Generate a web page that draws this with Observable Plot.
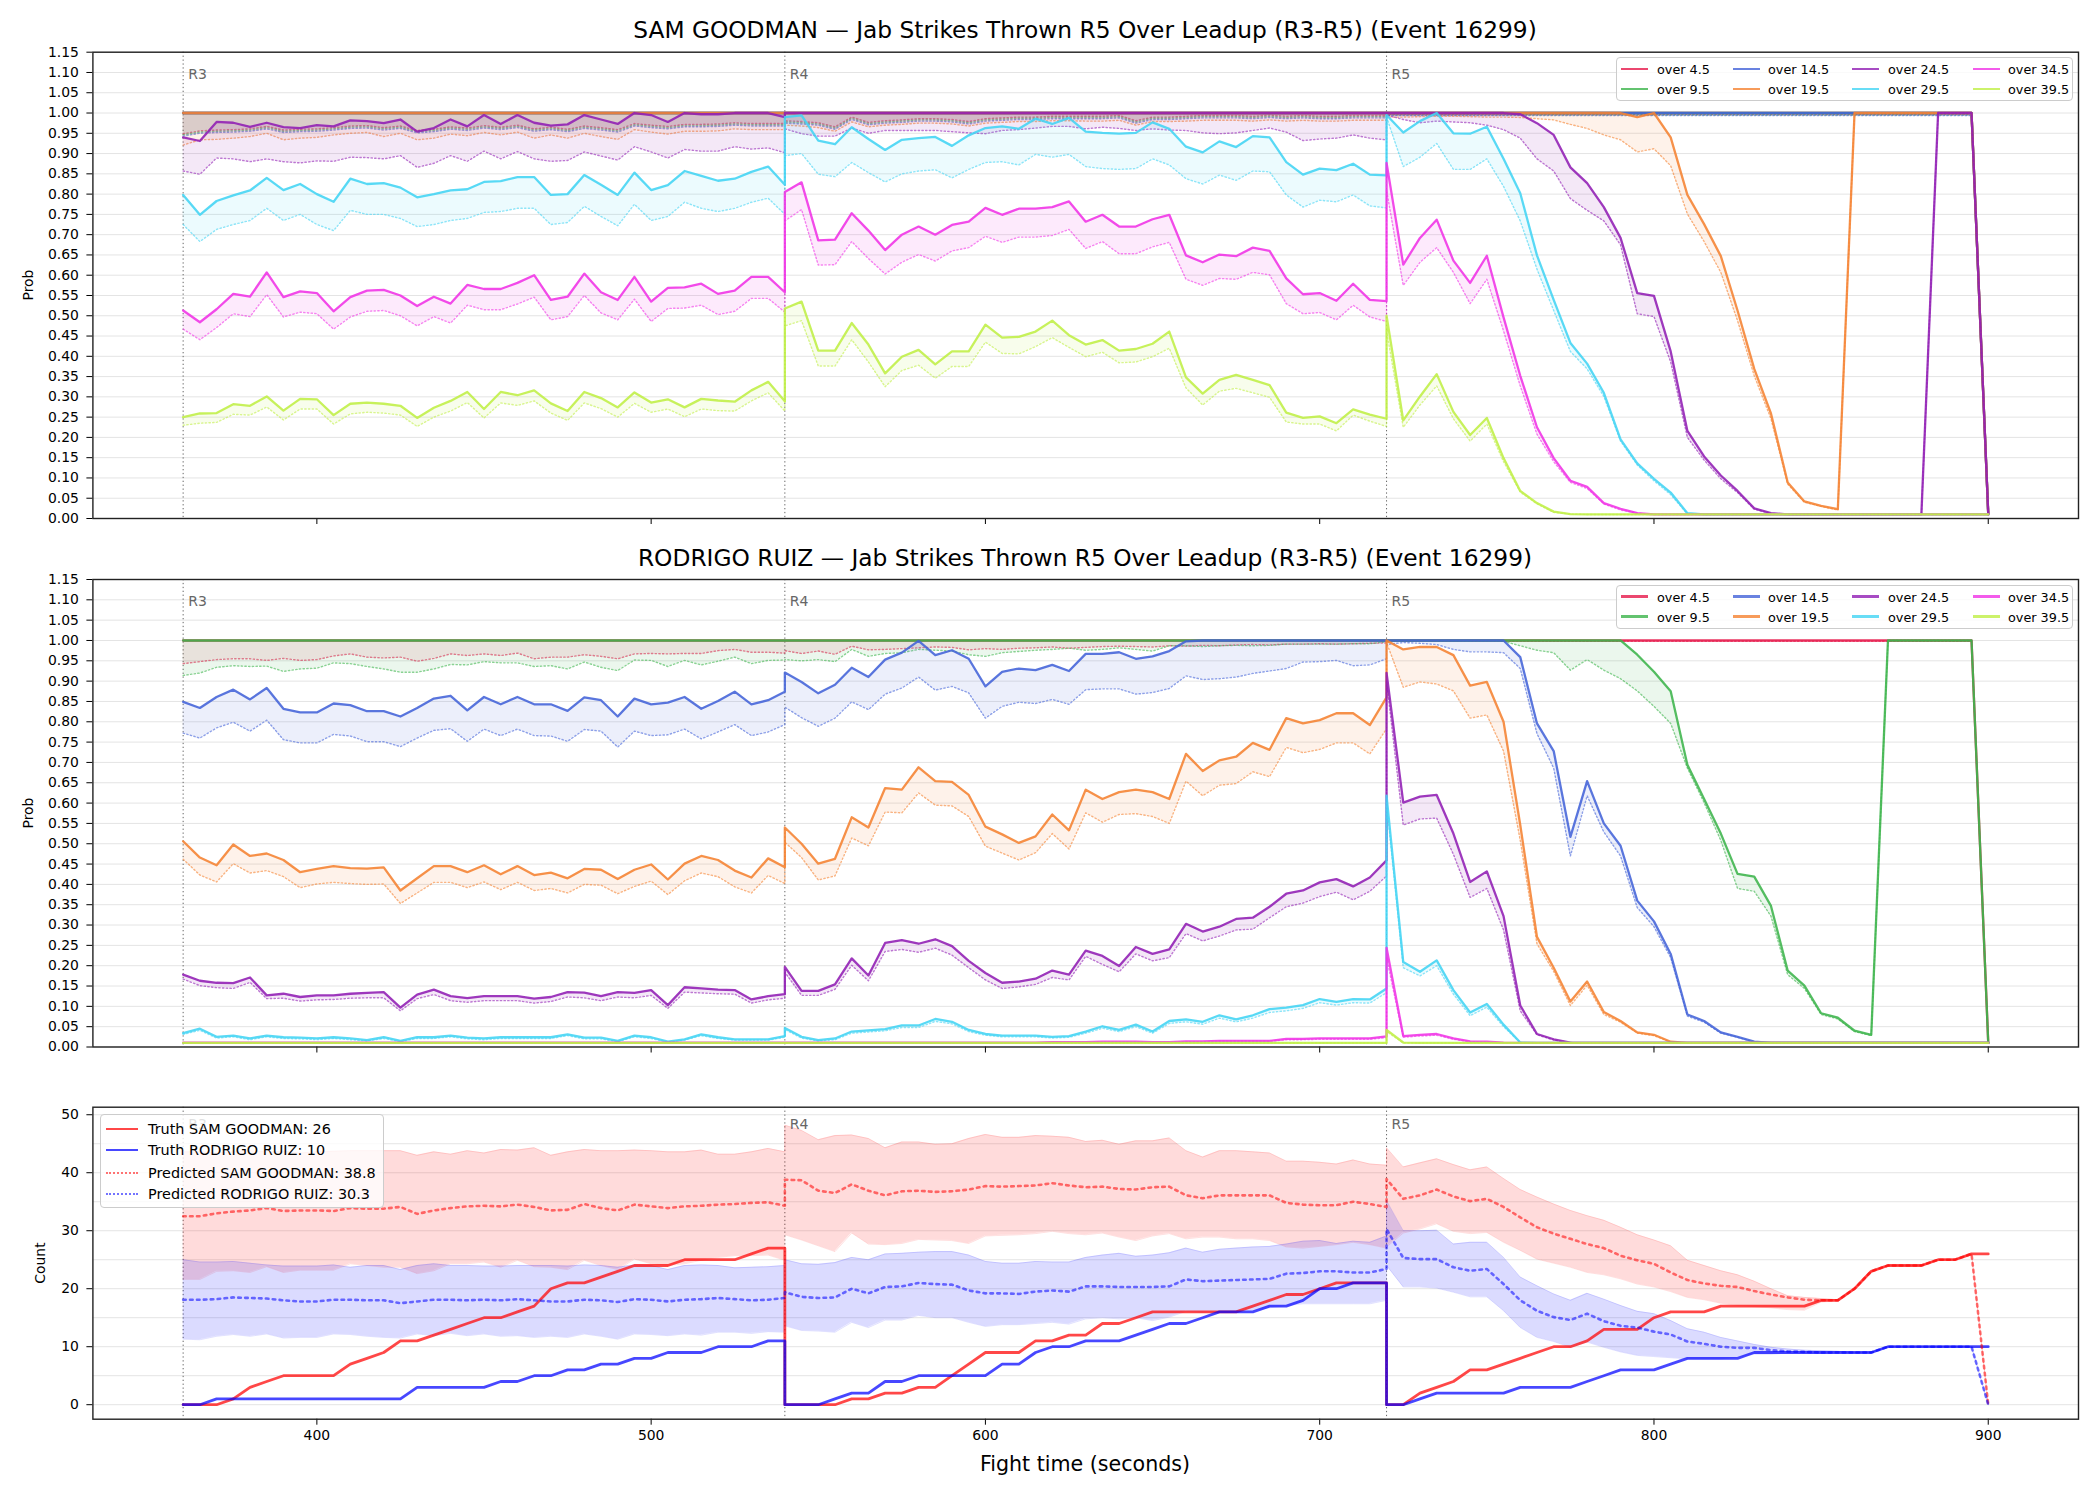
<!DOCTYPE html>
<html><head><meta charset="utf-8">
<script src="https://cdn.jsdelivr.net/npm/d3@7"></script>
<script src="https://cdn.jsdelivr.net/npm/@observablehq/plot@0.6"></script>
<style>
body{margin:0;background:#fff;}
#root{position:relative;width:2100px;height:1500px;background:#fff;font-family:"DejaVu Sans",sans-serif;overflow:hidden;color:#000}
.pl{position:absolute;left:0}
.title{position:absolute;left:92px;width:1986px;text-align:center;font-size:23.3px;line-height:28px;white-space:nowrap}
.ylab{position:absolute;font-size:13.9px;transform:translate(-50%,-50%) rotate(-90deg);white-space:nowrap}
.xlab{position:absolute;font-size:20.6px;transform:translate(-50%,-50%);white-space:nowrap}
.legend{position:absolute;background:rgba(255,255,255,0.8);border:1px solid #ccc;border-radius:4px;box-sizing:border-box}
.li{position:absolute;height:0}
.lt{position:absolute;white-space:nowrap;transform:translateY(-50%)}
</style></head>
<body><div id="root"></div>
<script>
// ---------- time grid (R3, R4, R5; 5 s steps, each round 0..180 s) ----------
const rounds = [{t:360,label:"R3"},{t:540,label:"R4"},{t:720,label:"R5"}];
const T = [].concat(d3.range(360,541,5), d3.range(540,721,5), d3.range(720,901,5));
const thresholds = ["over 4.5","over 9.5","over 14.5","over 19.5","over 24.5","over 29.5","over 34.5","over 39.5"];
const colors = ["#e6194b","#3cb44b","#4363d8","#f58231","#911eb4","#42d4f4","#f032e6","#bfef45"];

// ---------- SAM GOODMAN probabilities (percent); s = solid, d = dotted ----------
const sg45s = [
100,100,100,100,100,100,100,100,100,100, 100,100,100,100,100,100,100,100,100,100, 100,100,100,100,100,100,100,100,100,100, 100,100,100,100,100,100,100,
100,100,100,100,100,100,100,100,100,100, 100,100,100,100,100,100,100,100,100,100, 100,100,100,100,100,100,100,100,100,100, 100,100,100,100,100,100,100,
100,100,100,100,100,100,100,100,100,100, 100,100,100,100,100,100,100,100,100,100, 100,100,100,100,100,100,100,100,100,100, 100,100,100,100,100,100,1];
const sg45d = [
94.9,95.6,95.8,95.9,96.1,96.7,95.8,96.0,96.1,96.4, 96.8,96.9,96.4,96.8,95.7,96.0,96.6,96.3,96.9,96.5, 97.0,96.1,96.5,96.0,96.8,96.4,95.9,97.4,97.0,96.7, 97.2,97.2,97.3,97.6,97.4,97.4,97.4,
98.1,97.9,97.6,96.6,99.0,97.7,98.1,98.3,98.6,98.6, 98.4,97.9,98.6,98.8,99.0,99.0,99.2,99.2,99.2,99.2, 99.4,98.1,99.0,99.0,99.2,99.4,99.4,99.4,99.2,99.5, 99.2,99.4,99.2,99.2,99.4,99.4,99.4,
99.6,99.6,99.6,99.6,99.6,99.6,99.6,99.6,99.6,99.6, 99.6,99.6,99.6,99.6,99.6,99.6,99.6,99.6,99.6,99.6, 99.6,99.6,99.6,99.6,99.6,99.6,99.6,99.6,99.6,99.6, 99.6,99.6,99.6,99.6,99.6,99.6,1];
const sg95s = sg45s.slice();
const sg95d = [
94.6,95.3,95.5,95.6,95.8,96.4,95.5,95.7,95.8,96.1, 96.5,96.6,96.1,96.5,95.4,95.7,96.3,96.0,96.6,96.2, 96.7,95.8,96.2,95.7,96.5,96.1,95.6,97.1,96.7,96.4, 96.9,96.9,97.0,97.3,97.1,97.1,97.1,
97.8,97.6,97.3,96.3,98.7,97.4,97.8,98.0,98.3,98.3, 98.1,97.6,98.3,98.5,98.7,98.7,98.9,98.9,98.9,98.9, 99.1,97.8,98.7,98.7,98.9,99.1,99.1,99.1,98.9,99.2, 98.9,99.1,98.9,98.9,99.1,99.1,99.1,
99.5,99.5,99.5,99.5,99.5,99.5,99.5,99.5,99.5,99.5, 99.5,99.5,99.5,99.5,99.5,99.5,99.5,99.5,99.5,99.5, 99.5,99.5,99.5,99.5,99.5,99.5,99.5,99.5,99.5,99.5, 99.5,99.5,99.5,99.5,99.5,99.5,1];
const sg145s = sg45s.slice();
const sg145d = [
94.3,95.0,95.2,95.3,95.5,96.1,95.2,95.4,95.5,95.8, 96.2,96.3,95.8,96.2,95.1,95.4,96.0,95.7,96.3,95.9, 96.4,95.5,95.9,95.4,96.2,95.8,95.3,96.8,96.4,96.1, 96.6,96.6,96.7,97.0,96.8,96.8,96.8,
97.5,97.3,97.0,96.0,98.4,97.1,97.5,97.7,98.0,98.0, 97.8,97.3,98.0,98.2,98.4,98.4,98.6,98.6,98.6,98.6, 98.8,97.5,98.4,98.4,98.6,98.8,98.8,98.8,98.6,98.9, 98.6,98.8,98.6,98.6,98.8,98.8,98.8,
99.4,99.4,99.4,99.4,99.4,99.4,99.4,99.4,99.4,99.4, 99.4,99.4,99.4,99.4,99.4,99.4,99.4,99.4,99.4,99.4, 99.4,99.4,99.4,99.4,99.4,99.4,99.4,99.4,99.4,99.4, 99.4,99.4,99.4,99.4,99.4,99.4,1];
const sg195s = [
100,100,100,100,100,100,100,100,100,100, 100,100,100,100,100,100,100,100,100,100, 100,100,100,100,100,100,100,100,100,100, 100,100,100,100,100,100,100,
100,100,100,100,100,100,100,100,100,100, 100,100,100,100,100,100,100,100,100,100, 100,100,100,100,100,100,100,100,100,100, 100,100,100,100,100,100,100,
100,100,100,100,100,100,100,100,100,100, 100,100,100,100,100, 99.0,100,94.0,79.8,72.6,64.7,51.3,36.9,25.9,8.9,4.2,3.1,2.3, 100,100,100,100,100,100,100,100, 1];
const sg195d = [
92.1,93.4,93.5,93.8,94.2,95.0,93.4,93.8,94.0,94.6, 95.0,95.2,94.2,95.0,93.4,93.8,94.8,94.4,95.2,94.6, 95.3,93.8,94.6,93.8,95.0,94.2,93.5,95.9,95.3,94.8, 95.5,95.5,95.6,96.1,95.9,95.9,95.9,
97.0,96.8,96.4,95.5,97.8,96.6,97.0,97.2,97.5,97.5, 97.3,96.8,97.5,97.7,97.9,97.9,98.1,98.1,98.0,98.0, 98.2,97.0,97.9,97.9,98.0,98.2,98.2,98.2,98.0,98.3, 98.0,98.2,98.0,98.0,98.2,98.2,98.2,
99.0,99.0,99.1,99.2,99.2,99.1,99.0,99.0,98.9,98.6, 98.3,97.2,96.2,94.6,93.4,90.4,91.2,87.0,75.1,68.3, 60.7,48.8,35.2,24.6,8.5,4.0,3.0,2.1, 100,100,100,100,100,100,100,100, 1];
const sg245s = [
94.0,93.1,97.8,97.6,96.6,97.6,96.5,96.3,97.0,96.7, 98.2,98.0,97.5,98.4,95.4,96.3,98.4,96.7,99.5,97.3, 99.5,97.6,96.9,97.2,99.5,98.4,97.3,100,99.5,97.8, 100,99.7,99.7,100,100,100,99.0,
100,100,100,100,100,100,100,100,100,100, 100,100,100,100,100,100,100,100,100,100, 100,100,100,100,100,100,100,100,100,100, 100,100,100,100,100,100,100,
100,100,100,100,100,100,100,100, 99.7,97.5,94.6,86.6,82.7,76.8,69.2,55.6,54.9,41.2,21.6,15.3,10.6,6.8,2.5,1.3, 1,1,1,1,1,1,1,1,1, 100,100,100, 1.3];
const sg245d = [
85.7,84.9,88.9,88.7,88.0,88.7,88.0,87.7,88.2,88.1, 89.1,89.0,88.7,89.5,86.6,87.6,89.5,88.1,90.6,88.7, 90.5,88.7,88.1,88.3,90.4,89.4,88.4,91.7,90.4,88.9, 91.0,90.6,90.6,91.7,91.1,91.4,90.2,
96.1,94.9,94.3,94.3,96.3,95.0,95.7,95.7,95.7,95.7, 95.4,95.1,94.9,95.7,95.9,96.3,96.7,96.7,96.1,96.5, 96.2,95.7,96.1,95.8,95.7,95.1,94.9,95.1,95.7,96.3, 95.3,93.2,93.6,93.8,94.6,93.8,93.4,
99.5,98.4,97.6,98.0,97.8,97.6,97.0,95.9,93.8,88.7, 85.7,78.9,76.0,73.4,67.5,50.5,49.8,38.6,20.0,14.4, 9.8,6.4,2.3,1.2, 1,1,1,1,1,1,1,1,1, 100,100,100, 1.2];
const sg295s = [
79.8,74.9,78.3,79.7,80.9,84.0,81.0,82.5,80.0,78.1, 83.8,82.5,82.7,81.6,79.2,80.0,80.9,81.2,83.0,83.2, 84.2,84.2,79.8,80.0,84.7,82.3,79.8,85.3,81.0,82.2, 85.7,84.5,83.3,83.8,85.5,86.8,82.3,
99.0,99.4,93.2,92.3,96.5,93.6,90.9,93.4,93.8,94.1, 91.9,94.5,96.3,96.7,96.1,98.6,97.3,98.8,95.4,95.1, 94.9,95.1,97.7,96.1,91.7,90.3,93.0,91.6,94.3,94.0, 87.9,84.8,86.3,85.9,87.5,84.8,84.6,
99.5,95.2,98.0,100,95.0,94.9,96.6,88.7,80.2,64.9, 53.9,43.3,38.2,31.0,19.5,13.6,9.8,6.4,1.3, 1,1,1,1,1,1,1,1,1,1, 1,1,1,1,1,1,1,1];
const sg295d = [
72.5,68.3,71.3,72.5,73.5,76.5,73.5,75.0,72.5,71.0, 76.0,75.0,75.0,74.0,72.0,72.5,73.5,74.0,75.5,75.7, 76.5,76.5,72.5,73.0,77.0,74.5,72.2,77.5,73.5,74.5, 78.0,76.5,75.7,76.5,78.0,79.0,75.0,
89.5,90.0,84.9,84.3,87.8,85.3,83.0,85.0,85.7,86.0, 84.0,86.1,87.8,88.0,87.2,89.8,89.1,89.8,86.8,86.3, 86.1,86.3,88.7,87.2,83.8,82.5,84.7,83.4,85.7,85.5, 79.8,76.8,78.5,78.1,79.8,77.1,76.6,
99.0,86.8,89.1,92.5,86.1,86.1,88.7,81.9,73.4,61.5, 51.3,41.2,36.9,30.1,19.1,13.2,9.3,5.9,1.1, 1,1,1,1,1,1,1,1,1,1, 1,1,1,1,1,1,1,1];
const sg345s = [
51.3,48.4,51.6,55.4,54.7,60.7,54.6,56.0,55.6,51.1, 54.6,56.2,56.4,55.0,52.4,54.7,53.0,57.6,56.6,56.6, 58.1,60.0,53.9,54.7,60.4,55.8,53.9,59.6,53.5,56.9, 57.0,57.9,55.4,56.2,59.6,59.6,55.8,
80.5,82.9,68.6,68.8,75.3,71.0,66.2,70.0,72.0,70.0, 72.4,73.2,76.6,74.9,76.4,76.4,76.8,78.2,73.2,74.9, 72.0,72.0,73.8,74.9,64.9,63.2,65.1,64.7,66.8,66.0, 59.2,55.3,55.6,53.7,57.9,53.9,53.6,
87.7,62.6,69.2,73.7,63.6,58.1,64.8,49.6,35.2,22.5, 14.9,9.3,7.8,3.8,2.4,1.3, 1,1,1,1,1,1,1,1,1,1, 1,1,1,1,1,1,1,1,1,1, 1];
const sg345d = [
46.7,44.1,47.1,50.5,49.8,55.2,49.7,50.9,50.5,46.7, 49.7,51.1,51.3,50.0,47.5,49.8,48.2,52.6,51.5,51.5, 52.9,54.6,49.0,49.8,55.0,50.7,49.0,54.1,48.6,51.8, 51.9,52.6,50.3,51.1,54.3,54.3,50.9,
73.4,76.2,62.5,62.6,68.3,64.1,60.3,63.2,65.1,63.5, 66.0,66.8,69.6,68.1,69.4,69.4,69.8,71.3,66.6,68.3, 65.3,65.3,67.0,68.1,59.0,57.5,59.2,59.0,60.7,60.1, 53.0,50.5,50.8,49.0,52.6,49.7,48.6,
81.0,57.5,63.2,66.8,60.7,53.0,59.0,46.3,32.7,20.8, 14.0,8.9,7.4,3.6,2.1,1.3, 1,1,1,1,1,1,1,1,1,1, 1,1,1,1,1,1,1,1,1,1, 1];
const sg395s = [
25.0,25.9,26.0,28.2,27.8,30.1,26.6,29.5,29.4,25.5, 28.3,28.6,28.3,27.8,24.8,27.3,29.0,31.2,27.0,31.2, 30.4,31.6,28.4,26.5,31.2,29.7,27.4,31.1,28.6,29.4, 27.4,29.5,29.1,28.8,31.6,33.7,28.9,
51.8,53.5,41.4,41.4,48.2,42.9,35.8,39.9,41.6,38.0, 41.2,41.2,47.8,44.6,44.8,46.1,48.8,45.2,42.9,44.0, 41.4,41.8,43.1,46.1,34.8,30.8,34.2,35.4,34.2,32.9, 26.1,24.8,25.2,23.5,26.9,25.6,24.6,
50.0,24.2,30.1,35.6,26.3,20.6,24.8,14.9,6.8,3.8, 1.7,1.1, 1,1,1,1,1,1,1,1,1,1, 1,1,1,1,1,1,1,1,1,1, 1,1,1,1,1];
const sg395d = [
23.0,23.5,23.7,25.7,25.5,27.5,24.3,27.0,27.0,23.3, 25.8,26.2,26.0,25.5,22.7,25.0,26.5,28.6,24.8,28.5, 27.9,29.0,26.0,24.2,28.5,27.1,25.0,28.4,26.2,27.0, 25.1,27.0,26.6,26.5,29.0,31.0,26.5,
47.5,48.8,37.6,37.6,44.1,38.6,32.5,36.5,37.8,34.6, 37.5,37.5,43.5,40.7,40.6,42.4,44.6,42.2,39.9,41.0, 38.4,38.6,39.9,42.0,32.2,28.0,31.4,32.1,31.0,29.9, 23.8,23.3,23.3,21.6,25.5,24.0,22.7,
46.3,22.5,28.0,32.7,24.6,19.1,23.3,14.0,6.5,3.6, 1.5,1.1, 1,1,1,1,1,1,1,1,1,1, 1,1,1,1,1,1,1,1,1,1, 1,1,1,1,1];

// ---------- RODRIGO RUIZ probabilities (percent) ----------
const rr45s = sg45s.slice();
const rr45d = [
94.3,94.8,95.3,95.5,95.5,95.1,95.6,95.1,95.3,96.2, 96.7,95.9,95.7,95.9,94.9,95.6,96.7,96.3,96.7,96.3, 96.9,95.5,95.9,95.9,96.5,96.1,95.5,96.7,96.8,96.7, 96.8,96.8,97.5,97.8,97.1,97.1,96.9,
97.5,96.8,97.4,96.6,98.6,97.7,97.8,98.0,98.2,98.4, 98.3,97.7,98.0,97.8,98.1,98.2,98.4,98.1,98.3,98.5, 98.6,98.5,98.4,98.7,98.6,98.8,98.7,98.9,99.0,98.9, 99.1,99.1,99.2,99.1,99.2,99.3,99.4,
99.8,99.8,99.8,99.8,99.8,99.8,99.8,99.8,99.8,99.8, 99.8,99.8,99.8,99.8,99.8,99.8,99.8,99.8,99.8,99.8, 99.8,99.8,99.8,99.8,99.8,99.8,99.8,99.8,99.8,99.8, 99.8,99.8,99.8,99.8,99.8,99.8,1];
const rr95s = [
100,100,100,100,100,100,100,100,100,100, 100,100,100,100,100,100,100,100,100,100, 100,100,100,100,100,100,100,100,100,100, 100,100,100,100,100,100,100,
100,100,100,100,100,100,100,100,100,100, 100,100,100,100,100,100,100,100,100,100, 100,100,100,100,100,100,100,100,100,100, 100,100,100,100,100,100,100,
100,100,100,100,100,100,100,100,100,100, 100,100,100,100,100, 96.5,92.3,87.5,69.4,61.0,52.5,42.6,41.9,34.7,18.8,15.1,8.3,7.2,4.0,3.0, 100,100,100,100,100,100, 1];
const rr95d = [
91.4,92.0,93.4,93.8,93.6,93.7,92.4,93.0,93.2,94.5, 94.3,93.6,93.0,92.2,92.2,93.0,94.1,94.0,94.8,94.5, 94.5,93.6,93.8,93.0,94.7,93.4,92.6,95.2,95.1,93.6, 95.1,94.0,94.9,95.9,94.3,95.1,95.2,
95.3,95.0,95.3,94.8,97.8,96.1,96.8,97.0,97.8,97.6, 97.4,96.5,96.1,97.0,97.3,97.6,97.8,98.1,97.6,97.8, 98.2,97.8,97.4,98.7,98.7,98.5,98.7,98.8,98.7,98.8, 99.1,99.1,99.1,99.1,99.2,99.2,99.7,
99.8,99.8,99.8,99.8,99.8,99.8,99.8,99.8, 98.7,97.6,97.0,92.7,95.3,92.7,90.6,87.6,83.8,79.6,68.6,60.1,50.8,39.0,38.3,32.2,17.8,14.4,8.0,6.9,3.8,2.8, 100,100,100,100,100,100, 1];
const rr145s = [
84.9,83.4,86.1,87.9,85.5,88.3,83.2,82.3,82.3,84.5, 84.1,82.6,82.6,81.3,83.4,85.7,86.4,82.8,86.1,84.3, 86.1,84.3,84.3,82.7,86.0,85.3,81.3,85.7,84.3,84.7, 86.1,83.2,85.1,87.4,84.3,85.3,87.4,
92.1,89.8,87.0,89.1,93.3,91.0,95.3,97.0,99.9,96.4, 97.6,95.5,88.7,92.3,93.1,92.7,94.0,92.5,96.7,96.7, 97.1,95.5,96.1,97.4,99.8,100,100,100,100,100, 100,100,100,100,100,100,100,
100,100,100,100,100,100,100,100, 95.9,79.6,72.8,51.7,65.4,55.0,49.5,36.0,30.9,22.9,8.0,6.4,3.6,2.5,1.3, 1,1,1,1,1,1,1,1,1,1, 1,1,1,1];
const rr145d = [
77.2,76.0,78.5,79.9,77.7,80.4,75.6,74.8,74.8,76.9, 76.5,75.1,75.1,73.9,76.0,77.9,78.3,75.2,78.2,76.6, 78.2,76.6,76.5,75.2,78.1,77.7,73.8,77.7,76.6,76.8, 78.2,75.8,77.5,79.3,76.6,77.5,79.3,
83.6,81.0,78.9,80.9,84.9,83.0,86.8,88.3,91.0,87.8, 88.7,87.1,80.9,83.8,84.8,84.5,85.5,84.3,87.9,88.1, 88.1,86.8,87.2,88.2,91.3,90.4,90.6,91.0,91.9,92.5, 93.1,94.7,94.8,95.1,93.8,94.0,95.5,
99.0,99.5,99.3,99.0,97.8,97.2,97.2,97.0, 93.1,77.1,68.6,47.0,61.8,52.9,47.0,34.3,29.6,22.0,7.6,6.1,3.4,2.4,1.2, 1,1,1,1,1,1,1,1,1,1, 1,1,1,1];
const rr195s = [
50.6,46.6,44.7,49.8,47.0,47.6,46.0,43.0,43.8,44.5, 44.0,43.9,44.2,38.5,41.5,44.5,44.5,43.0,44.7,42.5, 44.5,42.3,42.9,41.5,43.8,43.6,41.3,43.6,44.9,41.2, 45.1,47.0,46.0,43.4,41.7,46.4,44.2,
54.0,50.0,45.1,46.3,56.5,54.0,63.7,63.3,68.8,65.4, 65.2,62.0,54.2,52.3,50.2,51.8,57.2,53.3,63.3,61.0, 62.7,63.3,62.7,61.0,72.1,67.9,70.5,71.4,74.8,73.1, 80.9,79.6,80.4,82.1,82.1,79.2,86.0,
100,97.8,98.4,98.4,96.4,88.9,89.8,80.0,54.6,27.1, 19.5,11.2,16.1,8.6,6.4,3.6,3.0,1.3, 1,1,1,1,1,1,1,1,1,1, 1,1,1,1,1,1,1,1,1];
const rr195d = [
46.2,42.3,40.6,45.1,42.8,43.4,41.9,39.2,40.1,40.5, 40.2,40.0,40.1,35.3,37.9,40.5,40.5,39.2,40.6,38.7, 40.5,38.5,39.0,37.9,40.0,39.8,37.7,39.5,40.8,37.5, 40.9,42.8,41.9,39.4,37.9,42.2,40.2,
50.4,46.6,41.1,42.1,51.4,49.5,57.8,57.6,62.5,59.5, 59.3,56.7,49.4,47.7,46.0,47.8,52.5,48.7,57.6,55.3, 57.2,57.4,56.7,55.0,65.4,61.8,64.4,64.8,67.7,66.5, 73.7,72.4,73.2,74.8,74.8,72.1,78.3,
99.5,88.5,89.8,89.3,87.6,80.9,81.7,72.8,50.8,25.4, 18.6,10.2,15.2,8.0,6.1,3.4,2.8,1.2, 1,1,1,1,1,1,1,1,1,1, 1,1,1,1,1,1,1,1,1];
const rr245s = [
17.8,16.3,15.8,15.7,17.1,12.7,13.1,12.3,12.7,12.7, 13.1,13.3,13.5,9.7,12.9,14.1,12.5,12.0,12.5,12.5, 12.5,11.9,12.3,13.5,13.4,12.5,13.5,13.3,14.0,10.3, 14.7,14.4,14.1,14.0,11.7,12.5,13.0,
19.7,13.8,13.8,15.4,21.8,17.6,25.6,26.3,25.4,26.5, 24.8,21.2,18.2,15.8,16.1,16.8,18.8,17.8,23.7,22.4, 19.9,24.6,22.9,24.0,30.3,28.4,29.6,31.5,31.8,34.5, 37.7,38.5,40.5,41.3,39.5,41.7,45.9,
92.0,60.1,61.6,62.0,52.5,40.6,43.2,32.2,10.2,3.2, 1.9,1.1, 1,1,1,1,1,1,1,1,1,1, 1,1,1,1,1,1,1,1,1,1, 1,1,1,1,1];
const rr245d = [
16.7,15.1,14.6,14.4,15.9,11.9,12.0,11.3,11.6,11.7, 12.0,12.1,12.1,8.9,11.9,12.9,11.4,11.0,11.4,11.4, 11.4,10.8,11.2,12.3,12.1,11.4,12.3,12.1,12.7,9.5, 13.5,13.3,13.1,13.0,10.8,11.6,12.0,
18.4,12.7,12.7,14.2,20.1,16.3,23.5,24.0,23.3,24.3, 22.6,19.5,16.5,14.4,14.8,15.4,17.1,16.5,22.3,20.3, 18.5,22.9,21.2,22.0,27.9,26.1,27.3,28.8,29.0,31.8, 34.5,35.4,37.0,38.1,36.2,38.3,42.1,
90.0,54.6,56.1,56.3,47.4,36.8,39.0,28.8,8.9,3.0, 1.7,1.1, 1,1,1,1,1,1,1,1,1,1, 1,1,1,1,1,1,1,1,1,1, 1,1,1,1,1];
const rr295s = [
3.4,4.5,2.5,2.8,2.1,2.8,2.4,2.3,2.1,2.4, 2.1,1.7,2.4,1.5,2.4,2.4,2.8,2.3,2.1,2.4, 2.4,2.4,2.4,3.1,2.3,2.3,1.5,2.8,2.4,1.3, 1.9,3.1,2.4,1.9,1.9,1.9,2.7,
4.7,2.5,1.7,2.1,3.8,4.1,4.4,5.3,5.3,6.9, 6.2,4.2,3.2,2.8,2.8,2.8,2.5,2.7,3.8,5.1, 4.2,5.5,3.8,6.4,6.8,6.2,7.8,6.8,7.8,9.3, 9.7,10.3,11.8,11.1,11.8,11.7,14.4,
61.8,20.9,18.5,21.3,14.0,8.5,10.6,5.5,1.1, 1, 1,1,1,1,1,1,1,1,1,1, 1,1,1,1,1,1,1,1,1,1, 1,1,1,1,1,1,1];
const rr295d = [
3.1,4.1,2.2,2.5,1.8,2.5,2.1,2.0,1.8,2.1, 1.8,1.5,2.1,1.3,2.1,2.1,2.5,2.0,1.8,2.1, 2.1,2.1,2.1,2.8,2.0,2.0,1.3,2.5,2.1,1.2, 1.7,2.8,2.1,1.7,1.7,1.7,2.4,
4.3,2.2,1.5,1.8,3.4,3.7,4.0,4.8,4.8,6.3, 5.7,3.8,2.9,2.5,2.5,2.5,2.2,2.4,3.4,4.6, 3.8,5.0,3.4,5.8,6.2,5.6,7.1,6.2,7.1,8.5, 8.9,9.5,10.9,10.3,10.9,10.8,13.4,
60.0,19.5,17.5,20.0,13.0,7.7,9.8,5.0,1.1, 1, 1,1,1,1,1,1,1,1,1,1, 1,1,1,1,1,1,1,1,1,1, 1,1,1,1,1,1,1];
const rr345s = [
1.1,1.1,1.1,1.1,1.1,1.1,1.1,1.1,1.1,1.1, 1.1,1.1,1.1,1.1,1.1,1.1,1.1,1.1,1.1,1.1, 1.1,1.1,1.1,1.1,1.1,1.1,1.1,1.1,1.1,1.1, 1.1,1.1,1.1,1.1,1.1,1.1,1.1,
1.1,1.1,1.1,1.1,1.1,1.1,1.1,1.1,1.1,1.1, 1.1,1.1,1.1,1.1,1.1,1.1, 1.2,1.2,1.2,1.3,1.3,1.3,1.2,1.2,1.4,1.4,1.5,1.5,1.5,1.5,2.0,2.0,2.1,2.1,2.1,2.1,2.6,
24.4,2.7,3.0,3.2,2.1,1.4,1.3,1.1, 1,1, 1,1,1,1,1,1,1,1,1,1, 1,1,1,1,1,1,1,1,1,1, 1,1,1,1,1,1,1];
const rr345d = [
1,1,1,1,1,1,1,1,1,1, 1,1,1,1,1,1,1,1,1,1, 1,1,1,1,1,1,1,1,1,1, 1,1,1,1,1,1,1,
1,1,1,1,1,1,1,1,1,1, 1,1,1,1,1,1, 1.1,1.1,1.1,1.2,1.2,1.2,1.1,1.1,1.3,1.3,1.4,1.4,1.4,1.4,1.8,1.8,1.9,1.9,1.9,1.9,2.3,
22.0,2.4,2.7,2.9,1.9,1.3,1.2,1.0, 1,1, 1,1,1,1,1,1,1,1,1,1, 1,1,1,1,1,1,1,1,1,1, 1,1,1,1,1,1,1];
const rr395s = [
1,1,1,1,1,1,1,1,1,1, 1,1,1,1,1,1,1,1,1,1, 1,1,1,1,1,1,1,1,1,1, 1,1,1,1,1,1,1,
1,1,1,1,1,1,1,1,1,1, 1,1,1,1,1,1,1,1,1,1, 1,1,1,1,1,1,1,1,1,1, 1,1,1,1,1,1,1,
4.2,1.1, 1,1,1,1,1,1,1,1, 1,1,1,1,1,1,1,1,1,1, 1,1,1,1,1,1,1,1,1,1, 1,1,1,1,1,1,1];
const rr395d = [
1,1,1,1,1,1,1,1,1,1, 1,1,1,1,1,1,1,1,1,1, 1,1,1,1,1,1,1,1,1,1, 1,1,1,1,1,1,1,
1,1,1,1,1,1,1,1,1,1, 1,1,1,1,1,1,1,1,1,1, 1,1,1,1,1,1,1,1,1,1, 1,1,1,1,1,1,1,
3.8,1.0, 1,1,1,1,1,1,1,1, 1,1,1,1,1,1,1,1,1,1, 1,1,1,1,1,1,1,1,1,1, 1,1,1,1,1,1,1];

// ---------- counts (bottom panel) ----------
const truthSG = [
0,0,0,1,3,4,5,5,5,5, 7,8,9,11,11,12,13,14,15,15, 16,17,20,21,21,22,23,24,24,24, 25,25,25,25,26,27,27,
0,0,0,0,1,1,2,2,3,3, 5,7,9,9,9,11,11,12,12,14, 14,15,16,16,16,16,16,16,17,18, 19,19,20,21,21,21,21,
0,0,2,3,4,6,6,7,8,9, 10,10,11,13,13,13,15,16,16,16, 17,17,17,17,17,17,18,18,20,23, 24,24,24,25,25,26,26];
const truthRR = [
0,0,1,1,1,1,1,1,1,1, 1,1,1,1,3,3,3,3,3,4, 4,5,5,6,6,7,7,8,8,9, 9,9,10,10,10,11,11,
0,0,0,1,2,2,4,4,5,5, 5,5,5,7,7,9,10,10,11,11, 11,12,13,14,14,15,16,16,16,17, 17,18,20,20,21,21,21,
0,0,1,2,2,2,2,2,3,3, 3,3,4,5,6,6,6,7,8,8, 8,8,9,9,9,9,9,9,9,9, 10,10,10,10,10,10,10];
const predSG = [
32.5,32.5,33.0,33.3,33.5,33.9,33.4,33.5,33.5,33.4, 33.9,33.8,33.8,34.1,32.9,33.5,33.9,34.2,34.3,34.2, 34.5,34.1,33.5,33.6,34.6,33.9,33.5,34.5,34.2,33.9, 34.2,34.3,34.5,34.6,34.8,34.9,34.3,
38.8,38.7,36.9,36.5,38.0,36.9,36.1,36.8,36.9,36.7, 36.8,37.1,37.7,37.6,37.7,37.8,38.2,37.8,37.5,37.6, 37.2,37.1,37.5,37.6,36.1,35.6,36.1,36.1,36.1,36.1, 34.8,34.5,34.4,34.4,35.0,34.6,34.1,
38.9,35.5,36.1,37.1,35.9,35.1,35.5,34.1,32.3,30.6, 29.5,28.6,27.7,27.0,25.7,24.9,24.3,22.8,21.5,20.9, 20.5,20.3,19.6,19.0,18.5,18.1,18.0,18.0,20,23, 24,24,24,25,25,26,0];
const hiSG = [
43.6,43.6,43.4,43.6,43.8,43.6,43.7,43.4,43.6,43.7, 43.8,43.8,43.8,43.8,43.0,43.6,43.2,43.8,43.4,44.0, 43.9,44.3,43.0,43.6,44.0,43.8,43.8,43.9,43.8,43.6, 43.6,43.9,43.2,43.2,43.6,44.2,43.6,
48.2,47.3,45.7,46.4,46.5,45.9,44.3,45.3,45.3,44.9, 45.0,45.9,46.6,46.1,46.1,46.4,46.3,46.1,45.4,45.6, 44.9,45.5,45.5,46.0,43.8,42.7,43.8,43.8,43.6,43.4, 42.0,42.0,41.8,41.5,42.2,41.5,41.3,
44.3,41.0,41.7,42.4,41.4,40.5,41.0,39.0,37.1,35.8, 34.6,33.5,32.6,31.8,30.6,29.3,28.4,27.4,24.9,24.0, 23.1,22.4,21.3,20.0,18.8,18.5,18.3,18.1,20,23, 24,24,24,25,25,26,0];
const loSG = [
21.6,21.6,23.0,23.1,22.8,23.8,22.8,23.2,23.2,23.2, 24.3,24.0,23.7,23.7,22.6,23.1,24.3,24.3,24.6,23.7, 24.9,23.8,23.7,23.3,24.9,24.0,23.3,25.1,24.3,24.0, 24.3,24.9,25.4,25.7,25.7,25.8,24.9,
29.3,28.4,27.4,26.4,29.6,27.7,27.6,27.8,28.5,28.4, 28.3,27.8,29.1,29.2,29.3,29.5,29.9,29.5,29.3,29.6, 28.9,28.3,29.1,29.5,28.6,28.9,28.9,28.6,28.6,28.3, 27.2,27.0,27.3,27.6,28.0,27.6,27.0,
27.2,29.6,30.3,31.2,29.9,29.5,29.7,28.0,26.6,25.1, 24.4,23.7,22.8,22.4,21.7,20.8,20.3,19.5,18.5,18.1, 17.5,17.1,16.9,16.7,16.4,16.3,17.7,17.9,20,23, 24,24,24,25,25,26,0];
const predRR = [
18.1,18.1,18.2,18.5,18.4,18.3,18.0,17.8,17.8,18.1, 18.1,18.0,18.0,17.5,17.8,18.1,18.1,18.0,18.1,18.0, 18.2,18.0,17.8,17.8,18.1,18.0,17.7,18.2,18.1,17.8, 18.1,18.2,18.4,18.2,18.0,18.1,18.4,
19.4,18.6,18.4,18.5,20.0,19.2,20.3,20.4,21.0,20.8, 20.7,19.7,19.2,19.2,19.1,19.5,19.7,19.5,20.4,20.4, 20.3,20.3,20.3,20.4,21.6,21.3,21.4,21.5,21.6,21.7, 22.6,22.7,23.0,23.0,22.8,22.8,23.4,
30.3,25.3,25.1,25.1,23.7,23.1,23.4,20.8,18.0,16.2, 15.1,14.6,15.7,14.4,13.6,13.3,12.6,12.1,10.9,10.5, 10.0,9.8,9.8,9.4,9.2,9.1,9.0,9.0,9.0,9.0, 10,10,10,10,10,10,0];
const hiRR = [
25.0,24.6,24.6,24.7,24.4,24.1,23.9,23.9,23.9,24.1, 23.7,24.0,24.0,23.3,24.0,24.3,24.0,24.0,23.9,23.9, 24.0,24.0,24.0,23.9,24.1,24.0,23.7,24.1,24.0,23.3, 24.0,24.1,24.0,23.6,23.7,23.8,24.0,
25.0,24.3,24.2,24.5,25.4,25.0,26.0,26.1,26.3,26.4, 26.4,25.8,24.7,24.4,24.4,24.7,24.6,24.6,25.4,25.8, 26.1,25.6,25.8,26.2,27.0,26.3,26.8,27.0,27.2,27.3, 27.7,28.2,28.3,27.8,28.2,28.0,29.1,
35.2,30.0,30.0,30.1,27.7,28.0,28.0,25.4,22.0,20.5, 19.1,18.0,19.2,18.2,17.1,16.1,15.7,14.5,13.1,12.5, 11.6,11.0,10.4,9.9,9.6,9.4,9.3,9.2,9.0,9.0, 10,10,10,10,10,10,0];
const loRR = [
11.3,11.2,11.8,12.1,11.8,12.2,11.5,11.6,11.6,12.2, 12.1,11.8,11.6,11.5,12.2,11.9,12.3,11.9,12.2,11.8, 11.9,11.6,11.8,11.6,12.2,11.8,11.3,12.2,12.1,11.9, 12.2,12.0,12.5,12.5,12.3,12.6,12.5,
13.6,12.8,12.7,12.5,14.2,13.3,14.6,14.6,15.4,15.0, 15.0,14.2,13.5,13.8,13.8,14.0,14.2,13.9,14.8,15.0, 14.8,15.0,14.5,15.1,16.1,15.9,16.1,16.1,16.3,16.7, 17.1,17.4,17.4,17.4,17.4,17.4,18.0,
24.0,20.3,20.3,20.1,19.4,18.6,18.6,16.2,13.3,11.6, 10.9,9.9,10.8,9.9,9.1,8.5,8.3,8.1,7.9,7.9, 7.9,8.2,8.7,8.7,8.9,8.9,8.9,9.0,9.0,9.0, 10,10,10,10,10,10,0];

// ---------- checks ----------
const all = {sg45s,sg45d,sg95s,sg95d,sg145s,sg145d,sg195s,sg195d,sg245s,sg245d,sg295s,sg295d,sg345s,sg345d,sg395s,sg395d,
 rr45s,rr45d,rr95s,rr95d,rr145s,rr145d,rr195s,rr195d,rr245s,rr245d,rr295s,rr295d,rr345s,rr345d,rr395s,rr395d,
 truthSG,truthRR,predSG,hiSG,loSG,predRR,hiRR,loRR};
const bad = Object.entries(all).filter(([k,v]) => v.length !== T.length).map(([k,v]) => k+":"+v.length);
if (bad.length) throw new Error("length mismatch " + bad.join(", "));

const sgSeries = [[sg45s,sg45d],[sg95s,sg95d],[sg145s,sg145d],[sg195s,sg195d],[sg245s,sg245d],[sg295s,sg295d],[sg345s,sg345d],[sg395s,sg395d]];
const rrSeries = [[rr45s,rr45d],[rr95s,rr95d],[rr145s,rr145d],[rr195s,rr195d],[rr245s,rr245d],[rr295s,rr295d],[rr345s,rr345d],[rr395s,rr395d]];

const root = document.getElementById("root");
const xTicks = [400,500,600,700,800,900];
const yTicksP = d3.range(0, 24).map(i => Math.round(i*5)/100);
const baseStyle = {fontFamily:"DejaVu Sans, sans-serif", fontSize:"13.9px", background:"transparent", overflow:"visible", color:"#000"};

function probPlot(series, mt, mb, h) {
  const marks = [
    Plot.gridY(yTicksP, {stroke:"#000", strokeOpacity:0.11, strokeWidth:1}),
    Plot.ruleX(rounds, {x:"t", stroke:"#555", strokeOpacity:0.9, strokeWidth:1, strokeDasharray:"1.3,2.6"})
  ];
  series.forEach(([s,d], k) => {
    const rows = T.map((t,i) => ({t, s:s[i]/100, d:d[i]/100}));
    marks.push(Plot.areaY(rows, {x:"t", y1:"d", y2:"s", fill:colors[k], fillOpacity:0.1}));
    marks.push(Plot.line(rows, {x:"t", y:"d", stroke:colors[k], strokeOpacity:0.6, strokeWidth:1.4, strokeDasharray:"1.4,2.3"}));
    marks.push(Plot.line(rows, {x:"t", y:"s", stroke:colors[k], strokeOpacity:0.88, strokeWidth:2.3}));
  });
  marks.push(Plot.text(rounds, {x:"t", y:1.095, text:"label", dx:5, textAnchor:"start", fill:"#666", fontSize:14}));
  marks.push(Plot.axisY(yTicksP, {tickSize:6, tickPadding:8, tickFormat:d3.format(".2f"), label:null}));
  marks.push(Plot.axisX(xTicks, {tickSize:6, tickFormat:() => "", label:null}));
  marks.push(Plot.frame({stroke:"#222", strokeWidth:1.4}));
  return Plot.plot({width:2100, height:h, marginTop:mt, marginBottom:mb, marginLeft:92.4, marginRight:22,
    x:{domain:[333,927]}, y:{domain:[0,1.15]}, style:baseStyle, marks});
}

function countPlot() {
  const rows = T.map((t,i) => ({t, tsg:truthSG[i], trr:truthRR[i], psg:predSG[i], prr:predRR[i], hs:hiSG[i], ls:loSG[i], hr:hiRR[i], lr:loRR[i]}));
  const marks = [
    Plot.gridY(d3.range(0,51,5), {stroke:"#000", strokeOpacity:0.11, strokeWidth:1}),
    Plot.ruleX(rounds, {x:"t", stroke:"#555", strokeOpacity:0.9, strokeWidth:1, strokeDasharray:"1.3,2.6"}),
    Plot.areaY(rows, {x:"t", y1:"ls", y2:"hs", fill:"red", fillOpacity:0.14}),
    Plot.line(rows, {x:"t", y:"hs", stroke:"red", strokeOpacity:0.12, strokeWidth:1}),
    Plot.line(rows, {x:"t", y:"ls", stroke:"red", strokeOpacity:0.12, strokeWidth:1}),
    Plot.areaY(rows, {x:"t", y1:"lr", y2:"hr", fill:"blue", fillOpacity:0.14}),
    Plot.line(rows, {x:"t", y:"hr", stroke:"blue", strokeOpacity:0.12, strokeWidth:1}),
    Plot.line(rows, {x:"t", y:"lr", stroke:"blue", strokeOpacity:0.12, strokeWidth:1}),
    Plot.line(rows, {x:"t", y:"tsg", stroke:"red", strokeOpacity:0.72, strokeWidth:2.8}),
    Plot.line(rows, {x:"t", y:"trr", stroke:"blue", strokeOpacity:0.72, strokeWidth:2.8}),
    Plot.line(rows, {x:"t", y:"psg", stroke:"red", strokeOpacity:0.55, strokeWidth:2.6, strokeDasharray:"2.6,4.3"}),
    Plot.line(rows, {x:"t", y:"prr", stroke:"blue", strokeOpacity:0.55, strokeWidth:2.6, strokeDasharray:"2.6,4.3"}),
    Plot.text(rounds, {x:"t", y:48.3, text:"label", dx:5, textAnchor:"start", fill:"#666", fontSize:14}),
    Plot.axisY([0,10,20,30,40,50], {tickSize:6, tickPadding:8, label:null}),
    Plot.axisX(xTicks, {tickSize:6, tickPadding:5, label:null}),
    Plot.frame({stroke:"#222", strokeWidth:1.4})
  ];
  return Plot.plot({width:2100, height:440, marginTop:46.7, marginBottom:81.3, marginLeft:92.4, marginRight:22,
    x:{domain:[333,927]}, y:{domain:[-2.5,51.3]}, style:baseStyle, marks});
}

function place(el, top) { const d = document.createElement("div"); d.className = "pl"; d.style.top = top + "px"; d.appendChild(el); root.appendChild(d); }
place(probPlot(sgSeries, 51.7, 12, 530), 0);
place(probPlot(rrSeries, 49, 13.5, 530), 530);
place(countPlot(), 1060);

function addText(cls, txt, css) { const d = document.createElement("div"); d.className = cls; d.textContent = txt; Object.assign(d.style, css); root.appendChild(d); return d; }
addText("title", "SAM GOODMAN \u2014 Jab Strikes Thrown R5 Over Leadup (R3-R5) (Event 16299)", {top:"15.5px"});
addText("title", "RODRIGO RUIZ \u2014 Jab Strikes Thrown R5 Over Leadup (R3-R5) (Event 16299)", {top:"544px"});
addText("ylab", "Prob", {left:"28px", top:"285px"});
addText("ylab", "Prob", {left:"28px", top:"813px"});
addText("ylab", "Count", {left:"40px", top:"1263px"});
addText("xlab", "Fight time (seconds)", {left:"1085px", top:"1464px"});

function rgba(hex, a) { const c = d3.rgb(hex); return `rgba(${c.r},${c.g},${c.b},${a})`; }
function probLegend(top) {
  const box = document.createElement("div"); box.className = "legend";
  Object.assign(box.style, {left:"1616px", top:top+"px", width:"457px", height:"44px"});
  const colX = [4, 116, 235, 356], txtX = [40, 151, 271, 391], rowY = [11, 31];
  thresholds.forEach((lab, k) => {
    const c = Math.floor(k/2), r = k % 2;
    const ln = document.createElement("div"); ln.className = "li";
    Object.assign(ln.style, {left:colX[c]+"px", top:(rowY[r]-1.4)+"px", width:"27px", height:"2.8px", background:rgba(colors[k],0.8)});
    box.appendChild(ln);
    const tx = document.createElement("div"); tx.className = "lt"; tx.textContent = lab;
    Object.assign(tx.style, {left:txtX[c]+"px", top:rowY[r]+"px", fontSize:"12.8px"});
    box.appendChild(tx);
  });
  root.appendChild(box);
}
probLegend(57);
probLegend(584.5);

(function countLegend() {
  const box = document.createElement("div"); box.className = "legend";
  Object.assign(box.style, {left:"100px", top:"1114px", width:"284px", height:"94px"});
  const items = [["Truth SAM GOODMAN: 26","red",false],["Truth RODRIGO RUIZ: 10","blue",false],["Predicted SAM GOODMAN: 38.8","red",true],["Predicted RODRIGO RUIZ: 30.3","blue",true]];
  const rowY = [14, 35, 58, 79];
  items.forEach(([lab,col,dot], i) => {
    const ln = document.createElement("div"); ln.className = "li";
    if (dot) {
      Object.assign(ln.style, {left:"5px", top:(rowY[i]-1.3)+"px", width:"32px", height:"0", borderTop:"2.6px dotted "+rgba(col==="red"?"#ff0000":"#0000ff",0.55)});
    } else {
      Object.assign(ln.style, {left:"5px", top:(rowY[i]-1.4)+"px", width:"32px", height:"2.8px", background:rgba(col==="red"?"#ff0000":"#0000ff",0.72)});
    }
    box.appendChild(ln);
    const tx = document.createElement("div"); tx.className = "lt"; tx.textContent = lab;
    Object.assign(tx.style, {left:"47px", top:rowY[i]+"px", fontSize:"14.4px"});
    box.appendChild(tx);
  });
  root.appendChild(box);
})();
</script></body></html>
